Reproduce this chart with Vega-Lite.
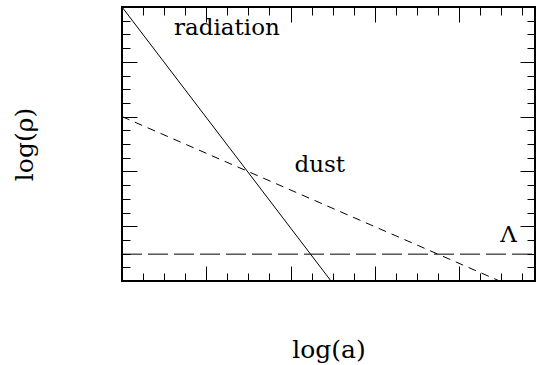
{
  "$schema": "https://vega.github.io/schema/vega-lite/v6.json",
  "width": 413,
  "height": 274,
  "autosize": "none",
  "padding": {"left": 122, "top": 7, "right": 2, "bottom": 84},
  "background": "white",
  "config": {
    "view": {"stroke": "black", "strokeWidth": 2},
    "font": "DejaVu Serif",
    "axis": {"labels": false, "domain": false, "grid": false, "tickColor": "black", "tickWidth": 1, "minExtent": 0, "maxExtent": 400, "titleFont": "DejaVu Serif", "titleFontSize": 25, "titleFontWeight": "normal", "titleColor": "black"}
  },
  "datasets": {
    "lines": [
      {"series": "radiation", "loga": 0, "logrho": 5},
      {"series": "radiation", "loga": 2.48, "logrho": 0},
      {"series": "dust", "loga": 0, "logrho": 3},
      {"series": "dust", "loga": 4.48, "logrho": 0},
      {"series": "Lambda", "loga": 0, "logrho": 0.49},
      {"series": "Lambda", "loga": 4.9, "logrho": 0.49}
    ],
    "labels": [
      {"label": "radiation", "loga": 1.245, "logrho": 4.49},
      {"label": "dust", "loga": 2.346, "logrho": 1.99},
      {"label": "Λ", "loga": 4.585, "logrho": 0.71}
    ]
  },
  "resolve": {"axis": {"x": "independent", "y": "independent"}},
  "layer": [
    {
      "data": {"name": "lines"},
      "transform": [{"filter": "datum.series === 'radiation'"}],
      "mark": {"type": "line", "color": "black", "strokeWidth": 1, "clip": true},
      "encoding": {
        "x": {"field": "loga", "type": "quantitative", "scale": {"domain": [0, 4.9], "nice": false, "zero": false},
              "axis": {"orient": "bottom", "values": [1, 2, 3, 4], "tickSize": -15, "title": "log(a)", "titlePadding": 56}},
        "y": {"field": "logrho", "type": "quantitative", "scale": {"domain": [0, 5], "nice": false, "zero": false},
              "axis": {"orient": "left", "values": [1, 2, 3, 4], "tickSize": -15, "title": "log(ρ)", "titlePadding": 84}}
      }
    },
    {
      "data": {"name": "lines"},
      "transform": [{"filter": "datum.series === 'dust'"}],
      "mark": {"type": "line", "color": "black", "strokeWidth": 1, "strokeDash": [8, 6], "clip": true},
      "encoding": {
        "x": {"field": "loga", "type": "quantitative", "scale": {"domain": [0, 4.9], "nice": false, "zero": false},
              "axis": {"orient": "bottom", "values": [0.25, 0.5, 0.75, 1.25, 1.5, 1.75, 2.25, 2.5, 2.75, 3.25, 3.5, 3.75, 4.25, 4.5, 4.75], "tickSize": -8, "title": null}},
        "y": {"field": "logrho", "type": "quantitative", "scale": {"domain": [0, 5], "nice": false, "zero": false},
              "axis": {"orient": "left", "values": [0.25, 0.5, 0.75, 1.25, 1.5, 1.75, 2.25, 2.5, 2.75, 3.25, 3.5, 3.75, 4.25, 4.5, 4.75], "tickSize": -8, "title": null}}
      }
    },
    {
      "data": {"name": "lines"},
      "transform": [{"filter": "datum.series === 'Lambda'"}],
      "mark": {"type": "line", "color": "black", "strokeWidth": 1, "strokeDash": [20, 6], "clip": true},
      "encoding": {
        "x": {"field": "loga", "type": "quantitative", "scale": {"domain": [0, 4.9], "nice": false, "zero": false},
              "axis": {"orient": "top", "values": [1, 2, 3, 4], "tickSize": -15, "title": null}},
        "y": {"field": "logrho", "type": "quantitative", "scale": {"domain": [0, 5], "nice": false, "zero": false},
              "axis": {"orient": "right", "values": [1, 2, 3, 4], "tickSize": -15, "title": null}}
      }
    },
    {
      "data": {"name": "labels"},
      "mark": {"type": "text", "font": "DejaVu Serif", "fontSize": 23, "color": "black", "align": "center", "baseline": "alphabetic"},
      "encoding": {
        "text": {"field": "label", "type": "nominal"},
        "x": {"field": "loga", "type": "quantitative", "scale": {"domain": [0, 4.9], "nice": false, "zero": false},
              "axis": {"orient": "top", "values": [0.25, 0.5, 0.75, 1.25, 1.5, 1.75, 2.25, 2.5, 2.75, 3.25, 3.5, 3.75, 4.25, 4.5, 4.75], "tickSize": -8, "title": null}},
        "y": {"field": "logrho", "type": "quantitative", "scale": {"domain": [0, 5], "nice": false, "zero": false},
              "axis": {"orient": "right", "values": [0.25, 0.5, 0.75, 1.25, 1.5, 1.75, 2.25, 2.5, 2.75, 3.25, 3.5, 3.75, 4.25, 4.5, 4.75], "tickSize": -8, "title": null}}
      }
    }
  ]
}
